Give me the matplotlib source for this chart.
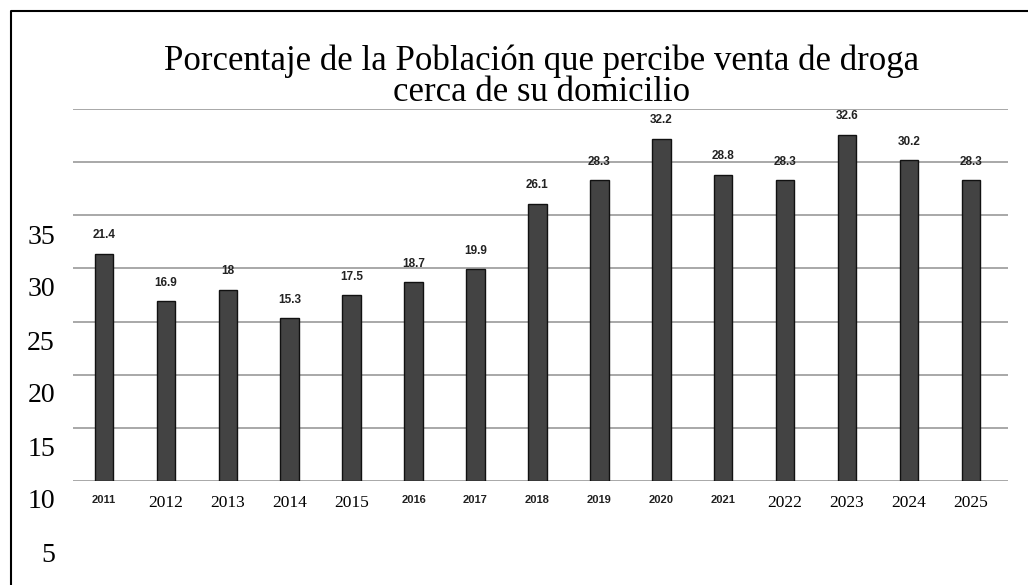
import matplotlib.pyplot as plt
from matplotlib.lines import Line2D

# data
years = ['2011', '2012', '2013', '2014', '2015', '2016', '2017', '2018',
         '2019', '2020', '2021', '2022', '2023', '2024', '2025']
values = [21.4, 16.9, 18.0, 15.3, 17.5, 18.7, 19.9, 26.1,
          28.3, 32.2, 28.8, 28.3, 32.6, 30.2, 28.3]
serif_years = ['2012', '2013', '2014', '2015', '2022', '2023', '2024', '2025']
side_labels = ['35', '30', '25', '20', '15', '10', '5']

title = 'Porcentaje de la Población que percibe venta de droga\ncerca de su domicilio'

W, H = 1028, 585
fig = plt.figure(figsize=(W / 100, H / 100), dpi=100)
fig.patch.set_facecolor('white')

# axes placed where the scanned plot area sits
ax = fig.add_axes([73 / W, (H - 481) / H, (1008 - 73) / W, (481 - 109) / H])
x = list(range(len(years)))
ax.bar(x, values, width=0.3, color='#434343', edgecolor='#111111', linewidth=1, zorder=3)

ax.set_ylim(0, 35)
ax.set_xlim(-0.5, 14.6)
ax.set_yticks(range(0, 36, 5))
ax.yaxis.grid(True, color='#a8a8a8', linewidth=1.4, zorder=0)
ax.set_axisbelow(True)
ax.tick_params(axis='y', left=False, labelleft=False)
ax.tick_params(axis='x', length=0, pad=10)
for s in ax.spines.values():
    s.set_visible(False)

ax.set_xticks(x)
ax.set_xticklabels(years)
for lbl in ax.get_xticklabels():
    if lbl.get_text() in serif_years:
        lbl.set_fontfamily('Liberation Serif')
        lbl.set_fontsize(12.5)
    else:
        lbl.set_fontfamily('Liberation Sans')
        lbl.set_fontweight('bold')
        lbl.set_fontsize(8)
        lbl.set_color('#222222')

# value labels above bars
for xi, v in zip(x, values):
    ax.annotate(f'{v:g}', (xi, v), xytext=(0, 9), textcoords='offset points',
                ha='center', va='bottom', fontsize=8.5, fontweight='bold',
                family='Liberation Sans', color='#222222')

# title
fig.text(542 / W, 1 - 77 / H, title, ha='center', va='center',
         family='Liberation Serif', fontsize=25, linespacing=0.93)

# left hand labels (offset from the grid, as in the reference)
for i, t in enumerate(side_labels):
    y = 237 + i * 53
    fig.text(55 / W, 1 - y / H, t, ha='right', va='center',
             family='Liberation Serif', fontsize=20)

# frame lines (left + top)
fig.add_artist(Line2D([11 / W, 11 / W, 1.0], [0.0, 1 - 11 / H, 1 - 11 / H],
                      transform=fig.transFigure, color='black', linewidth=1.5))

fig.savefig('out.png', dpi=100)
